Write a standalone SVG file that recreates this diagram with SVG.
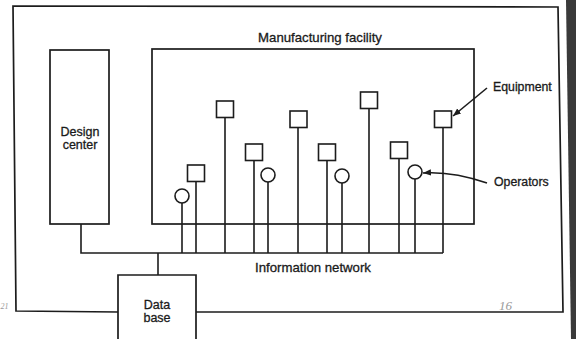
<svg xmlns="http://www.w3.org/2000/svg" width="576" height="339" viewBox="0 0 576 339">
  <defs>
    <style>
      .ln { fill: none; stroke: #1c1c1c; stroke-width: 1.6; }
      .box { fill: none; stroke: #1c1c1c; stroke-width: 1.7; }
      .dev { fill: #ffffff; stroke: #1c1c1c; stroke-width: 1.6; }
      .t { font-family: "Liberation Sans", Arial, sans-serif; font-size: 12.5px; fill: #1a1a1a; stroke: #1a1a1a; stroke-width: 0.3; text-anchor: middle; }
      .tl { font-family: "Liberation Sans", Arial, sans-serif; font-size: 12.3px; fill: #1a1a1a; stroke: #1a1a1a; stroke-width: 0.3; }
      .big { font-size: 13.2px; }
      .pg { font-family: "Liberation Serif", "Times New Roman", serif; font-style: italic; fill: #9a9a9a; }
    </style>
    <marker id="ah" viewBox="0 0 10 10" refX="10" refY="5" markerWidth="8" markerHeight="8" orient="auto" markerUnits="userSpaceOnUse">
      <path d="M0,1 L10,5 L0,9 Z" fill="#1c1c1c"/>
    </marker>
  </defs>
  <rect width="576" height="339" fill="#ffffff"/>
  <path d="M566,0 L576,0 L576,339 L571,339 Z" fill="#3a3a3a"/>

  <g id="outer-frame">
    <path class="box" d="M118,312 L16,311 L13,6 L558,7 L563,312 L196,312"/>
  </g>

  <g id="design-center">
    <rect class="box" x="50" y="50" width="59" height="174"/>
    <text class="t" x="80" y="136">Design</text>
    <text class="t" x="80" y="149">center</text>
  </g>

  <g id="manufacturing-facility">
    <rect class="box" x="152" y="49" width="322" height="175"/>
    <text class="t big" x="320" y="42">Manufacturing facility</text>
  </g>

  <g id="data-base">
    <path class="box" d="M118,345 L118,275 L196,275 L196,345"/>
    <text class="t" x="157" y="309">Data</text>
    <text class="t" x="157" y="322">base</text>
  </g>

  <g id="connectors">
    <path class="ln" d="M81,224 L81,253 L443,253"/>
    <path class="ln" d="M158,253 L158,275"/>
    <path class="ln" d="M182,203 V253 M196,181.5 V253 M225,117.5 V253 M254,160.5 V253 M268,182 V253 M298,127.5 V253 M327,160.5 V253 M342,183 V253 M369,108.5 V253 M399,158.5 V253 M415,179 V253 M443,127.5 V253"/>
    <path class="ln" d="M487,88 L453,116" marker-end="url(#ah)"/>
    <path class="ln" d="M487,183 Q452,171 423,173" marker-end="url(#ah)"/>
  </g>

  <g id="equipment">
    <rect class="dev" x="187.5" y="165" width="17" height="16.5"/>
    <rect class="dev" x="216.5" y="101" width="17" height="16.5"/>
    <rect class="dev" x="245.5" y="144" width="17" height="16.5"/>
    <rect class="dev" x="290" y="111" width="17" height="16.5"/>
    <rect class="dev" x="318.5" y="144" width="17" height="16.5"/>
    <rect class="dev" x="360.5" y="92" width="17" height="16.5"/>
    <rect class="dev" x="390.5" y="142" width="17" height="16.5"/>
    <rect class="dev" x="434.5" y="111" width="17" height="16.5"/>
    <text class="tl" x="493" y="91">Equipment</text>
  </g>

  <g id="operators">
    <circle class="dev" cx="182" cy="196" r="7"/>
    <circle class="dev" cx="268" cy="175" r="7"/>
    <circle class="dev" cx="342" cy="176" r="7"/>
    <circle class="dev" cx="415" cy="172" r="7"/>
    <text class="tl" x="494" y="186">Operators</text>
  </g>

  <g id="network-label">
    <text class="t big" x="313" y="272">Information network</text>
  </g>

  <text class="pg" x="499" y="310" font-size="13">16</text>
  <text class="pg" x="0.5" y="309" font-size="8">21</text>
</svg>
